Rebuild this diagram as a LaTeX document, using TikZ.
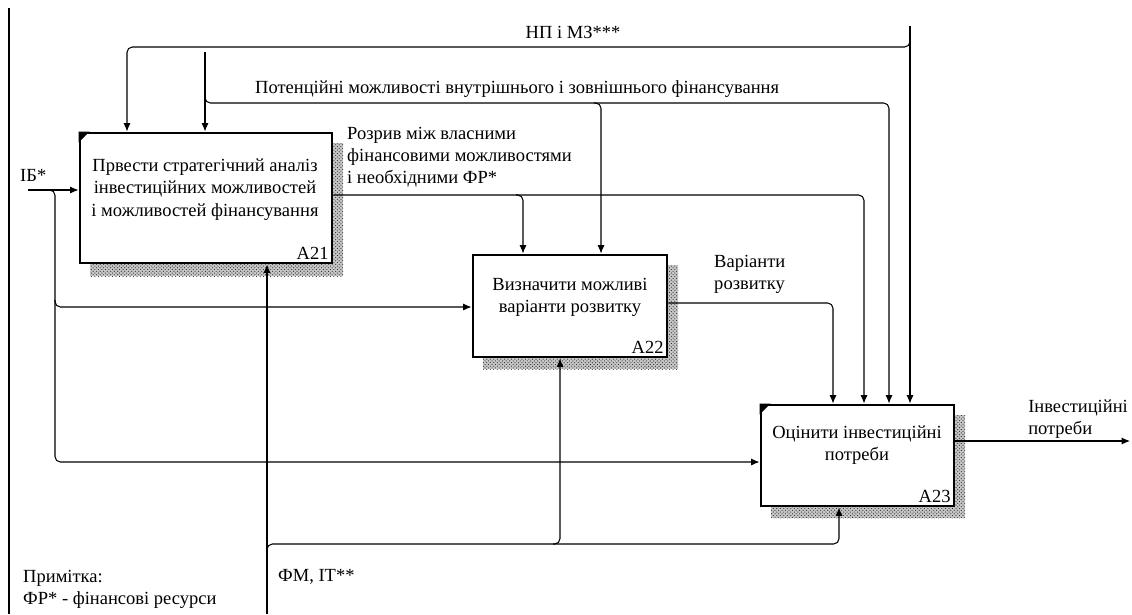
\documentclass[tikz,border=0pt]{standalone}
\usepackage{fontspec}
\setmainfont{Liberation Serif}
\usetikzlibrary{arrows.meta,patterns,positioning}

\tikzset{
  func/.style={draw, line width=2.5pt, fill=white, inner sep=0pt},
  hatch/.style={fill=black!22, postaction={pattern=crosshatch dots, pattern color=black!85}},
  link/.style={line width=0.9pt, rounded corners=1.6mm},
  arr/.style={link, -{Latex[length=2.5mm,width=2.1mm]}},
  lbl/.style={font=\fontsize{15.8pt}{19pt}\selectfont, inner sep=0pt},
}

\begin{document}
\begin{tikzpicture}[x=0.03cm, y=-0.03cm]

    \useasboundingbox (0,0) rectangle (1132,614);

    % Рамка зліва
    \draw[line width=0.9pt] (9,8) -- (9,614);

    % Тіні блоків
    \fill[hatch] (90,143) rectangle (343,276);
    \fill[hatch] (483,265) rectangle (678,369);
    \fill[hatch] (771,415) rectangle (965,518);

    % Функціональні блоки
    \node[func, minimum width=7.56cm, minimum height=3.9cm,
          label={[lbl, anchor=south east, xshift=-4pt, yshift=4pt]south east:A21}] (a21) at (206,198) {};
    \node[func, minimum width=5.82cm, minimum height=3.06cm,
          label={[lbl, anchor=south east, xshift=-4pt, yshift=4pt]south east:A22}] (a22) at (570,306) {};
    \node[func, minimum width=5.79cm, minimum height=3.03cm,
          label={[lbl, anchor=south east, xshift=-4pt, yshift=4pt]south east:A23}] (a23) at (857.5,455.5) {};

    % Кутові позначки
    \fill (a21.north west) -- ++(11,0) -- ++(-11,11) -- cycle;
    \fill (a23.north west) -- ++(11,0) -- ++(-11,11) -- cycle;

    % Тексти блоків
    \node[lbl, align=center] (a21-t) at (205,189.5) {Првести стратегічний аналіз\\інвестиційних можливостей\\і можливостей фінансування};
    \node[lbl, align=center] (a22-t) at (570,297) {Визначити можливі\\варіанти розвитку};
    \node[lbl, align=center] (a23-t) at (857,445) {Оцінити інвестиційні\\потреби};

    % Вільні кінці
    \coordinate (np) at (910,26);
    \coordinate (pot) at (205,52);
    \coordinate (ib) at (28,190);
    \coordinate (fm) at (267,614);
    \coordinate (out) at (1130,441);

    % НП і МЗ***
    \draw[arr] (np) -- (a23.north -| np);
    \draw[arr] (910,38) -- (910,47) -- (127,47) -- (a21.north -| 127,0);
    \node[lbl] (np-t) at (573,32) {НП і МЗ***};

    % Потенційні можливості
    \draw[arr] (pot) -- (a21.north -| pot);
    \draw[arr] (205,96) -- (205,103) -- (889,103) -- (a23.north -| 889,0);
    \draw[arr] (594,103) -- (601,103) -- (a22.north -| 601,0);
    \node[lbl, anchor=west] (pot-t) at (255,89) {Потенційні можливості внутрішнього і зовнішнього фінансування};

    % Розрив
    \draw[arr] (a21.east |- 0,195) -- (864,195) -- (a23.north -| 864,0);
    \draw[arr] (516,195) -- (523,195) -- (a22.north -| 523,0);
    \node[lbl, anchor=west, align=left] (gap-t) at (347,157) {Розрив між власними\\фінансовими можливостями\\і необхідними ФР*};

    % Варіанти розвитку
    \draw[arr] (a22.east |- 0,303) -- (833,303) -- (a23.north -| 833,0);
    \node[lbl, anchor=west, align=left] (var-t) at (714,274.5) {Варіанти\\розвитку};

    % ІБ*
    \draw[arr] (ib) -- (a21.west |- ib);
    \draw[arr] (48,190) -- (55,190) -- (55,462) -- (a23.west |- 0,462);
    \draw[arr] (55,300) -- (55,307) -- (a22.west |- 0,307);
    \node[lbl, anchor=west] (ib-t) at (20,175) {ІБ*};

    % ФМ, ІТ**
    \draw[arr] (fm) -- (a21.south -| fm);
    \draw[arr] (267,551) -- (267,544) -- (839,544) -- (a23.south -| 839,0);
    \draw[arr] (553,544) -- (560,544) -- (a22.south -| 560,0);
    \node[lbl, anchor=west] (fm-t) at (278,577) {ФМ, ІТ**};

    % Вихід
    \draw[arr] (a23.east |- out) -- (out);
    \node[lbl, anchor=west, align=left] (out-t) at (1028,419) {Інвестиційні\\потреби};

    % Примітка
    \node[lbl, anchor=west, align=left] (note) at (23,589.5) {Примітка:\\ФР* - фінансові ресурси};

\end{tikzpicture}
\end{document}
